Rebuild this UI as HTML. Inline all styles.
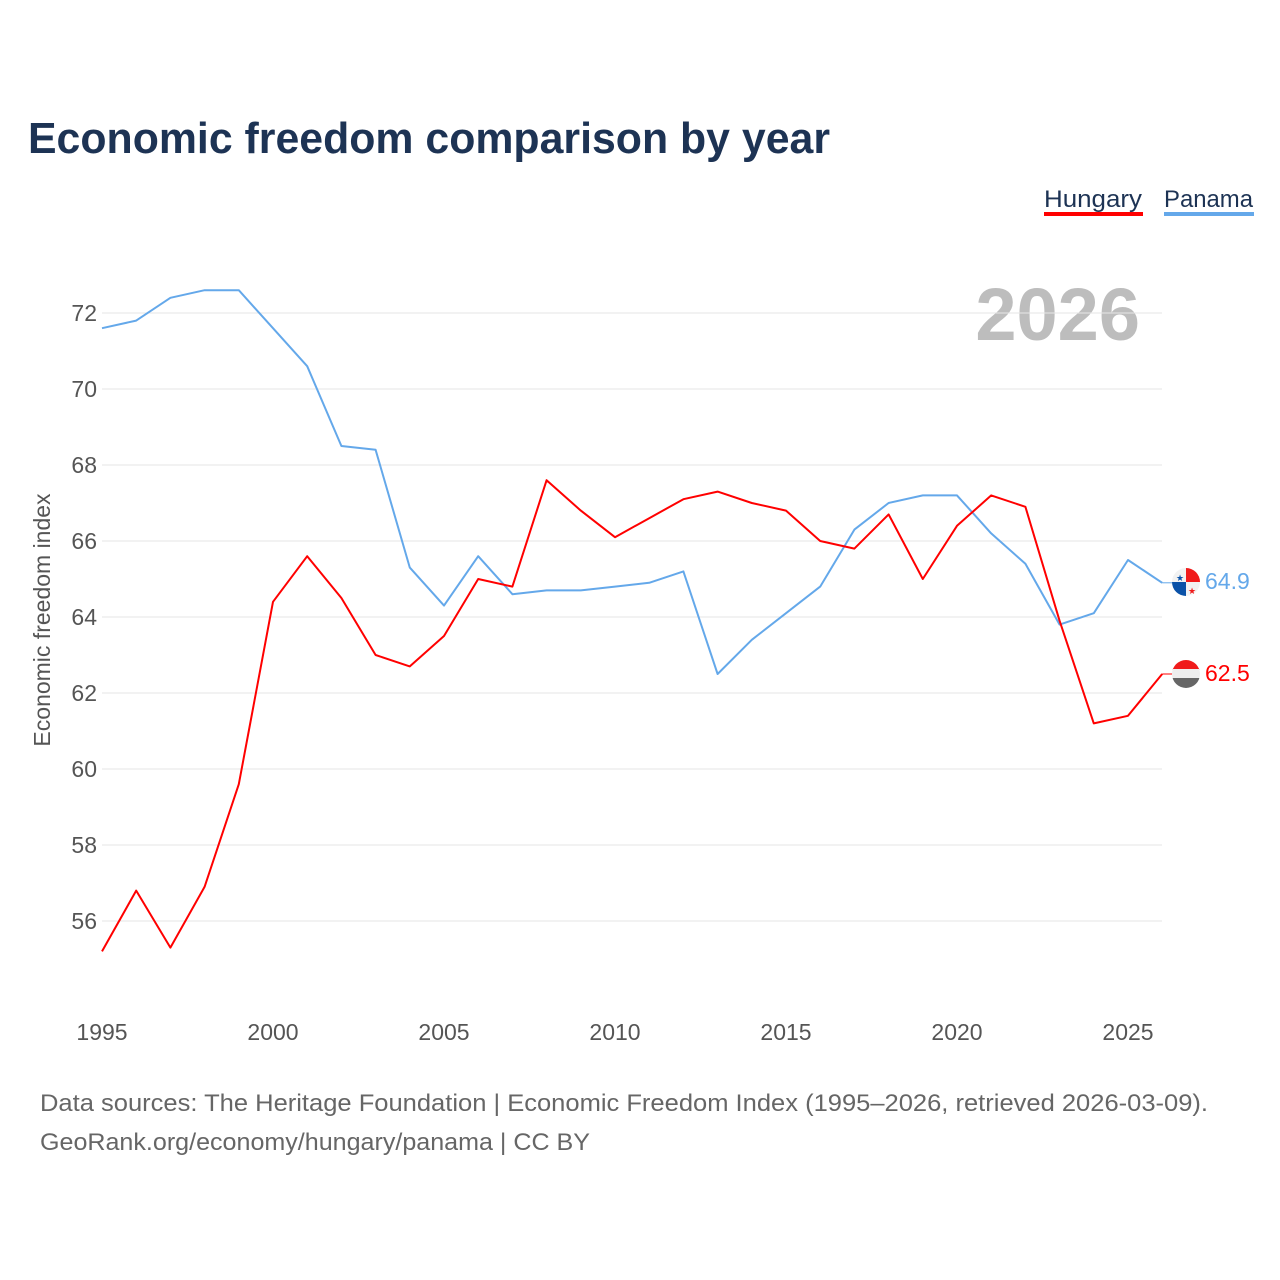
<!DOCTYPE html>
<html><head><meta charset="utf-8"><style>
html,body{margin:0;padding:0;background:#fff;}
svg{display:block;font-family:"Liberation Sans",sans-serif;}
</style></head><body>
<svg id="chart" width="1280" height="1280" viewBox="0 0 1280 1280">
<text x="28" y="153" font-size="44" font-weight="bold" fill="#1d3354" textLength="802" lengthAdjust="spacingAndGlyphs">Economic freedom comparison by year</text>
<g>
<text x="1044" y="207" font-size="24" fill="#1d3354" textLength="98" lengthAdjust="spacingAndGlyphs">Hungary</text>
<rect x="1044" y="212" width="99" height="4" fill="#ff0000"/>
</g>
<g>
<text x="1164" y="207" font-size="24" fill="#1d3354" textLength="89" lengthAdjust="spacingAndGlyphs">Panama</text>
<rect x="1164" y="212" width="90" height="4" fill="#64a8ea"/>
</g>
<text x="1140" y="340" font-size="74" font-weight="bold" fill="#bdbdbd" text-anchor="end">2026</text>
<text transform="translate(50,620) rotate(-90)" font-size="23" fill="#555" text-anchor="middle">Economic freedom index</text>
<g id="grid"></g><g id="yticks"></g><g id="xticks"></g><g id="lines"></g>
<g>
<clipPath id="cp"><circle cx="1186" cy="582" r="14"/></clipPath>
<g clip-path="url(#cp)">
<rect x="1172" y="568" width="28" height="28" fill="#f2f2f2"/>
<rect x="1186" y="568" width="14" height="14" fill="#f01b1b"/>
<rect x="1172" y="582" width="14" height="14" fill="#0a52a8"/>
</g>
<text x="1180" y="581" font-size="9" fill="#0a52a8" text-anchor="middle">★</text>
<text x="1192" y="594" font-size="9" fill="#f01b1b" text-anchor="middle">★</text>
</g>
<g>
<clipPath id="ch"><circle cx="1186" cy="674" r="14"/></clipPath>
<g clip-path="url(#ch)">
<rect x="1172" y="660" width="28" height="10" fill="#f01b1b"/>
<rect x="1172" y="669" width="28" height="10" fill="#eeeeee"/>
<rect x="1172" y="678" width="28" height="10" fill="#666"/>
</g>
</g>
<text x="1205" y="589" font-size="23" fill="#64a8ea">64.9</text>
<text x="1205" y="681" font-size="23" fill="#ff0000">62.5</text>
<text x="40" y="1111" font-size="24" fill="#666" textLength="1168" lengthAdjust="spacingAndGlyphs">Data sources: The Heritage Foundation | Economic Freedom Index (1995–2026, retrieved 2026-03-09).</text>
<text x="40" y="1150" font-size="24" fill="#666" textLength="550" lengthAdjust="spacingAndGlyphs">GeoRank.org/economy/hungary/panama | CC BY</text>
</svg>
<script>
const years=[1995,1996,1997,1998,1999,2000,2001,2002,2003,2004,2005,2006,2007,2008,2009,2010,2011,2012,2013,2014,2015,2016,2017,2018,2019,2020,2021,2022,2023,2024,2025,2026];
const hungary=[55.2,56.8,55.3,56.9,59.6,64.4,65.6,64.5,63.0,62.7,63.5,65.0,64.8,67.6,66.8,66.1,66.6,67.1,67.3,67.0,66.8,66.0,65.8,66.7,65.0,66.4,67.2,66.9,63.9,61.2,61.4,62.5];
const panama=[71.6,71.8,72.4,72.6,72.6,71.6,70.6,68.5,68.4,65.3,64.3,65.6,64.6,64.7,64.7,64.8,64.9,65.2,62.5,63.4,64.1,64.8,66.3,67.0,67.2,67.2,66.2,65.4,63.8,64.1,65.5,64.9];
const yTicks=[56,58,60,62,64,66,68,70,72];
const xTicks=[1995,2000,2005,2010,2015,2020,2025];
const NS="http://www.w3.org/2000/svg";
function X(y){return 102+(y-1995)*34.2;}
function Y(v){return 313+(72-v)*38;}
function mk(t,a,p){const e=document.createElementNS(NS,t);for(const k in a)e.setAttribute(k,a[k]);p.appendChild(e);return e;}
const grid=document.getElementById('grid'),yt=document.getElementById('yticks'),xt=document.getElementById('xticks'),ln=document.getElementById('lines');
yTicks.forEach(v=>{
const g=mk('line',{x1:102,x2:1162,y1:Y(v),y2:Y(v),stroke:'#e6e6e6','stroke-width':1},grid);


const t=mk('text',{x:97,y:Y(v)+8,'font-size':23,fill:'#555','text-anchor':'end'},yt);
t.textContent=v;


});
xTicks.forEach(v=>{
const t=mk('text',{x:X(v),y:1040,'font-size':23,fill:'#555','text-anchor':'middle'},xt);
t.textContent=v;


});
function line(vals,color,name){
const pts=vals.map((v,i)=>X(years[i]).toFixed(1)+','+Y(v).toFixed(1));
const l=mk('polyline',{points:pts.join(' '),fill:'none',stroke:color,'stroke-width':2,'stroke-linejoin':'round'},ln);


const last=vals[vals.length-1];
const c=mk('line',{x1:X(years[years.length-1]),x2:1172,y1:Y(last),y2:Y(last),stroke:color,'stroke-width':1},ln);


}
line(panama,'#64a8ea','panama-line');
line(hungary,'#ff0000','hungary-line');
</script>
</body></html>
